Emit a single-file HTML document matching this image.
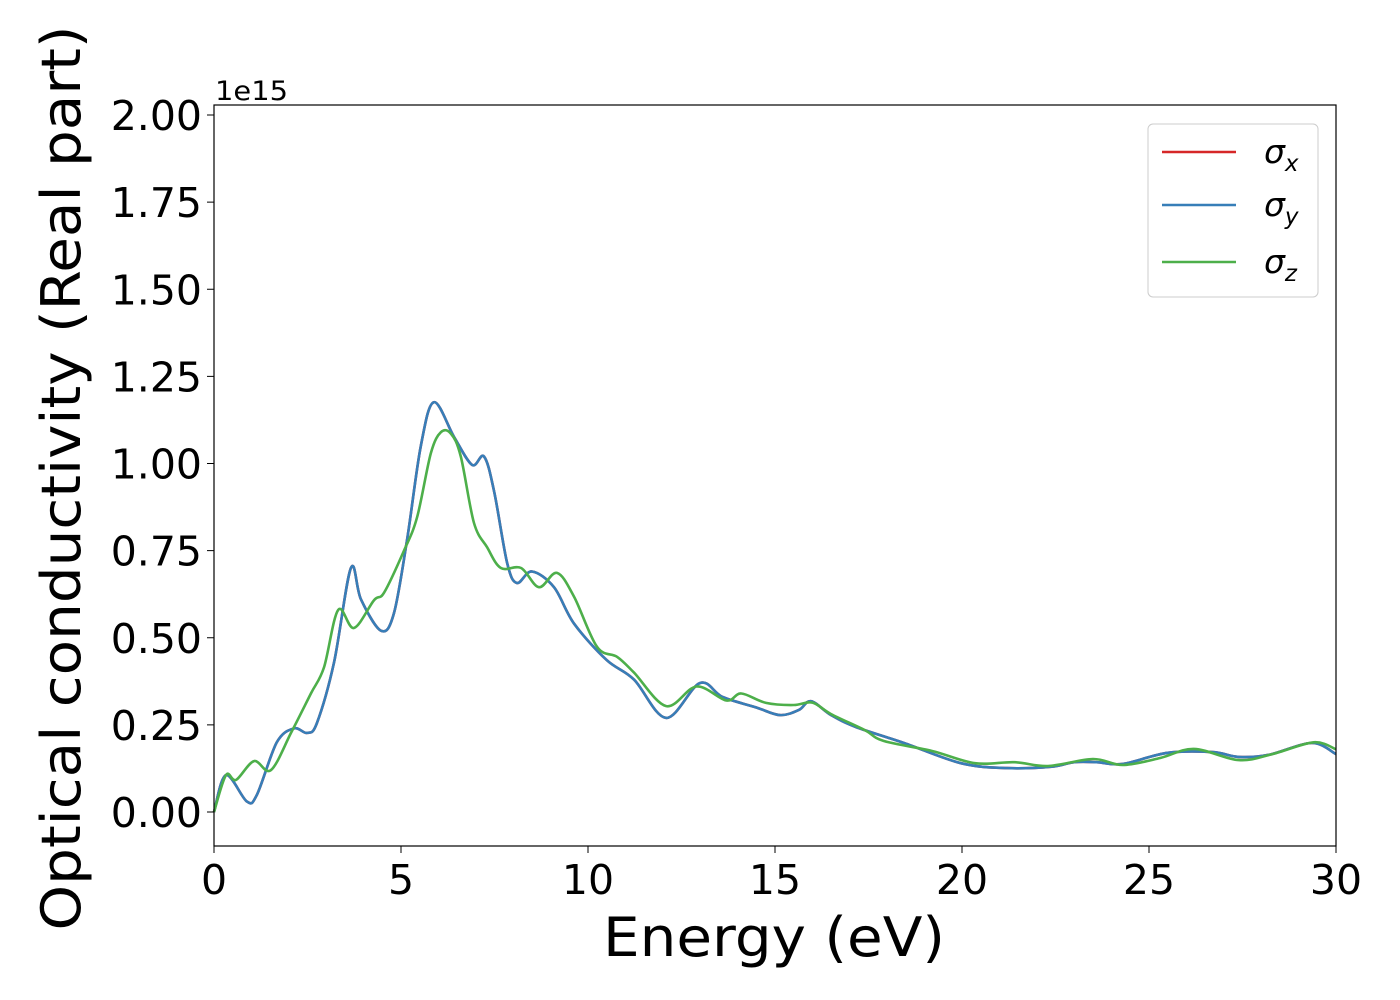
<!DOCTYPE html>
<html><head><meta charset="utf-8"><style>
body{margin:0;background:#fff}
svg{display:block;font-family:"DejaVu Sans","Liberation Sans",sans-serif}
</style></head><body>
<svg id="chart" width="1400" height="1000" viewBox="0 0 1400 1000" xmlns="http://www.w3.org/2000/svg">
<rect width="1400" height="1000" fill="#fff"/>
<g id="plot"></g>
<g id="axes"></g>
<rect x="214" y="105" width="1122" height="741" fill="none" stroke="#000" stroke-width="1.2"/>
<text x="215" y="100" font-size="27" textLength="73" lengthAdjust="spacingAndGlyphs">1e15</text>
<text x="774" y="956" font-size="54" text-anchor="middle" textLength="342" lengthAdjust="spacingAndGlyphs">Energy (eV)</text>
<text transform="translate(80,478) rotate(-90)" font-size="54" text-anchor="middle" textLength="905" lengthAdjust="spacingAndGlyphs">Optical conductivity (Real part)</text>
<g>
<rect x="1148" y="124" width="170" height="173" rx="5" fill="#fff" stroke="#ccc" stroke-width="1"/>
<line x1="1162" y1="152" x2="1236" y2="152" stroke="#d62728" stroke-width="2.5"/>
<text x="1264" y="163" font-size="33" font-style="italic">σ<tspan font-size="23" dy="8">x</tspan></text>
<line x1="1162" y1="205" x2="1236" y2="205" stroke="#377eb8" stroke-width="2.5"/>
<text x="1264" y="216" font-size="33" font-style="italic">σ<tspan font-size="23" dy="8">y</tspan></text>
<line x1="1162" y1="262" x2="1236" y2="262" stroke="#4daf4a" stroke-width="2.5"/>
<text x="1264" y="273" font-size="33" font-style="italic">σ<tspan font-size="23" dy="8">z</tspan></text>
</g>
</svg>
<script>
const xTicks=[0,5,10,15,20,25,30];
const yTicks=[0,0.25,0.5,0.75,1.0,1.25,1.5,1.75,2.0];
const yTickLabels=["0.00","0.25","0.50","0.75","1.00","1.25","1.50","1.75","2.00"];
const energyXY=[0,0.32,0.88,1.15,1.68,2.14,2.49,2.75,3.21,3.66,3.93,4.47,4.81,5.16,5.53,5.88,6.42,6.9,7.22,7.49,7.84,8.1,8.5,9.09,9.63,10.5,11.23,12.09,12.99,13.6,14.5,15.13,15.64,15.96,16.5,17.16,18.45,19.97,21.2,22.4,23.0,23.6,24.3,25.5,26.7,27.4,28.2,29.35,30];
const sigmaX=[0,0.106,0.03,0.05,0.2,0.24,0.227,0.255,0.43,0.7,0.61,0.52,0.57,0.78,1.05,1.176,1.076,0.996,1.02,0.92,0.714,0.657,0.69,0.645,0.54,0.436,0.38,0.27,0.37,0.33,0.3,0.278,0.293,0.318,0.278,0.244,0.198,0.14,0.126,0.13,0.143,0.143,0.138,0.17,0.172,0.158,0.164,0.198,0.166];
const sigmaY=[0,0.106,0.03,0.05,0.2,0.24,0.227,0.255,0.43,0.7,0.61,0.52,0.57,0.78,1.05,1.176,1.076,0.996,1.02,0.92,0.714,0.657,0.69,0.645,0.54,0.436,0.38,0.27,0.37,0.33,0.3,0.278,0.293,0.318,0.278,0.244,0.198,0.14,0.126,0.13,0.143,0.143,0.138,0.17,0.172,0.158,0.164,0.198,0.166];
const energyZ=[0,0.32,0.59,1.07,1.52,2.06,2.59,2.94,3.32,3.74,4.28,4.55,5.08,5.43,5.8,6.07,6.34,6.6,6.95,7.3,7.67,8.21,8.69,9.17,9.63,10.24,10.78,11.23,12.09,12.9,13.7,14.1,14.76,15.5,16.0,16.5,17.4,17.9,19.2,20.35,21.4,22.3,23.5,24.3,25.3,26.2,27.4,28.3,29.4,30];
const sigmaZ=[0,0.106,0.092,0.146,0.12,0.227,0.34,0.415,0.58,0.528,0.608,0.63,0.75,0.846,1.03,1.09,1.085,1.02,0.83,0.76,0.7,0.7,0.645,0.686,0.617,0.474,0.445,0.4,0.304,0.36,0.32,0.34,0.313,0.307,0.314,0.281,0.235,0.204,0.175,0.14,0.143,0.132,0.152,0.135,0.155,0.181,0.149,0.166,0.2,0.18];

const X0=214,X1=1336,Y0=812,PPU=348.5;
function sx(v){return X0+(v-0)/30*(X1-X0);}
function sy(v){return Y0-v*PPU;}
const NS="http://www.w3.org/2000/svg";
const axes=document.getElementById('axes');
const plot=document.getElementById('plot');
xTicks.forEach(t=>{
  const l=document.createElementNS(NS,'line');
  
  
  l.setAttribute('x1',sx(t));l.setAttribute('x2',sx(t));l.setAttribute('y1',846);l.setAttribute('y2',853);l.setAttribute('stroke','#000');
  axes.appendChild(l);
  const tx=document.createElementNS(NS,'text');
  
  
  tx.setAttribute('x',sx(t));tx.setAttribute('y',894);tx.setAttribute('font-size','41');tx.setAttribute('text-anchor','middle');
  tx.textContent=String(t);axes.appendChild(tx);
});
yTicks.forEach((t,i)=>{
  const l=document.createElementNS(NS,'line');
  
  
  l.setAttribute('x1',207);l.setAttribute('x2',214);l.setAttribute('y1',sy(t));l.setAttribute('y2',sy(t));l.setAttribute('stroke','#000');
  axes.appendChild(l);
  const tx=document.createElementNS(NS,'text');
  
  
  tx.setAttribute('x',202);tx.setAttribute('y',sy(t)+15);tx.setAttribute('font-size','41');tx.setAttribute('text-anchor','end');
  tx.textContent=yTickLabels[i];axes.appendChild(tx);
});
function smoothPath(xs,ys){
  const p=xs.map((x,i)=>[sx(x),sy(ys[i])]);
  let d='M'+p[0][0]+','+p[0][1];
  for(let i=0;i<p.length-1;i++){
    const a=p[Math.max(0,i-1)],b=p[i],c=p[i+1],e=p[Math.min(p.length-1,i+2)];
    const c1=[b[0]+(c[0]-a[0])/6,b[1]+(c[1]-a[1])/6];
    const c2=[c[0]-(e[0]-b[0])/6,c[1]-(e[1]-b[1])/6];
    d+=' C'+c1[0].toFixed(1)+','+c1[1].toFixed(1)+' '+c2[0].toFixed(1)+','+c2[1].toFixed(1)+' '+c[0].toFixed(1)+','+c[1].toFixed(1);
  }
  return d;
}
function addLine(xs,ys,color,name){
  const pth=document.createElementNS(NS,'path');
  
  
  pth.setAttribute('d',smoothPath(xs,ys));
  pth.setAttribute('fill','none');pth.setAttribute('stroke',color);pth.setAttribute('stroke-width','2.6');
  plot.appendChild(pth);
}
addLine(energyXY,sigmaX,'#d62728','sigma-x-line');
addLine(energyXY,sigmaY,'#377eb8','sigma-y-line');
addLine(energyZ,sigmaZ,'#4daf4a','sigma-z-line');
</script>
</body></html>
